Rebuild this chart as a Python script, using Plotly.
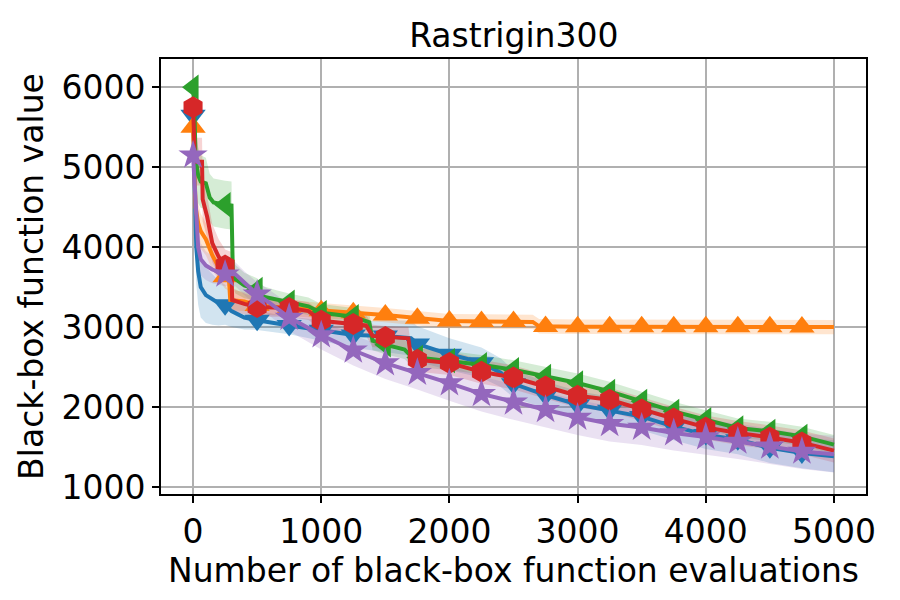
import numpy as np
import plotly.graph_objects as go

# mean curve of best value found, plus band half-width
blue_x = [0, 10, 25, 40, 60, 100, 150, 200, 250, 300, 400, 500, 750, 1000, 1250, 1500, 1700, 1750,
          2000, 2250, 2400, 2500, 2750, 3000, 3250, 3500, 3750, 4000, 4250, 4500, 4750, 5000]
blue_y = [5650, 4800, 4000, 3700, 3500, 3400, 3350, 3300, 3280, 3200, 3120, 3085, 3020, 2960, 2900, 2890, 2860, 2790,
          2660, 2555, 2430, 2290, 2150, 2030, 1960, 1880, 1755, 1655, 1590, 1490, 1425, 1385]
blue_sd = [60, 350, 450, 420, 380, 350, 320, 280, 250, 200, 150, 120, 110, 130, 160, 200, 220, 220,
           200, 190, 180, 170, 170, 170, 170, 170, 170, 180, 180, 190, 190, 200]

orange_x = [0, 10, 20, 40, 60, 100, 150, 200, 250, 280, 290, 400, 500, 750, 1000, 1250, 1500, 1750,
            2000, 2250, 2500, 2650, 2700, 2750, 3000, 3250, 3500, 3750, 4000, 4250, 4500, 4750, 5000]
orange_y = [5500, 5000, 4500, 4300, 4200, 4100, 3900, 3750, 3630, 3600, 3340, 3320, 3270, 3240, 3205, 3180, 3150, 3110,
            3075, 3070, 3070, 3065, 3010, 3008, 3005, 3005, 3005, 3005, 3005, 3005, 3005, 3000, 3000]
orange_sd = [80, 300, 300, 250, 220, 200, 180, 160, 150, 140, 130, 120, 110, 100, 95, 90, 90, 90,
             90, 90, 90, 90, 90, 90, 90, 90, 90, 90, 90, 90, 90, 90, 90]

green_x = [0, 10, 20, 40, 60, 100, 130, 160, 250, 300, 310, 330, 400, 500, 550, 650, 750, 900, 1000,
           1250, 1375, 1400, 1500, 1650, 1700, 1750, 2000, 2250, 2500, 2750, 3000, 3250, 3500, 3750,
           4000, 4250, 4500, 4750, 5000]
green_y = [6000, 5750, 5100, 4900, 4820, 4800, 4620, 4560, 4530, 4520, 3720, 3600, 3520, 3470, 3380, 3340, 3310, 3260, 3180,
           3130, 3060, 2830, 2780, 2720, 2640, 2620, 2580, 2530, 2466, 2383, 2300, 2196, 2071, 1946,
           1841, 1737, 1696, 1633, 1530]
green_sd = [60, 250, 350, 350, 330, 320, 300, 300, 300, 300, 200, 180, 160, 140, 130, 120, 110, 110, 110,
            110, 110, 120, 120, 120, 120, 120, 120, 120, 120, 120, 120, 120, 120, 120,
            120, 120, 120, 120, 120]

red_x = [0, 5, 15, 70, 75, 110, 150, 200, 250, 300, 305, 400, 500, 750, 900, 1000, 1250, 1350, 1400,
         1500, 1680, 1700, 1750, 2000, 2250, 2500, 2750, 3000, 3250, 3500, 3750, 4000, 4250, 4500, 4750, 5000]
red_y = [5750, 5400, 5070, 5070, 4600, 4380, 4050, 3880, 3770, 3760, 3340, 3290, 3250, 3240, 3200, 3080, 3040, 3020, 2890,
         2875, 2860, 2620, 2590, 2550, 2440, 2370, 2258, 2141, 2091, 1970, 1855, 1745, 1675, 1620, 1555, 1455]
red_sd = [60, 250, 300, 300, 280, 260, 240, 220, 200, 180, 150, 130, 120, 110, 110, 110, 120, 130, 140,
          140, 140, 150, 150, 150, 150, 150, 150, 150, 150, 150, 150, 150, 150, 150, 150, 150]

purple_x = [0, 10, 20, 30, 40, 60, 100, 150, 200, 250, 330, 400, 500, 600, 750, 1000, 1250, 1500, 1750,
            2000, 2250, 2500, 2750, 3000, 3250, 3500, 3750, 4000, 4250, 4500, 4750, 5000]
purple_y = [5150, 4800, 4500, 4200, 4000, 3850, 3770, 3720, 3690, 3660, 3660, 3550, 3410, 3300, 3120, 2900, 2710, 2550, 2430,
            2300, 2165, 2060, 1966, 1870, 1790, 1745, 1675, 1625, 1570, 1508, 1445, 1410]
purple_sd = [60, 300, 300, 280, 250, 200, 180, 170, 160, 150, 150, 150, 150, 160, 170, 180, 190, 200, 210,
             220, 220, 220, 220, 220, 220, 220, 220, 220, 220, 220, 220, 230]

series = [
    ("blue", blue_x, blue_y, blue_sd, "#1f77b4", "31,119,180", "triangle-down"),
    ("orange", orange_x, orange_y, orange_sd, "#ff7f0e", "255,127,14", "triangle-up"),
    ("green", green_x, green_y, green_sd, "#2ca02c", "44,160,44", "triangle-left"),
    ("red", red_x, red_y, red_sd, "#d62728", "214,39,40", "hexagon"),
    ("purple", purple_x, purple_y, purple_sd, "#9467bd", "148,103,189", "star"),
]

FONT = "DejaVu Sans"
FS = 33

fig = go.Figure()

for name, xs, ys, sd, color, rgb, symbol in series:
    xs = np.array(xs)
    ys = np.array(ys)
    sd = np.array(sd)
    # shaded band
    fig.add_trace(go.Scatter(x=xs, y=ys + sd, mode="lines", line=dict(width=0),
                             hoverinfo="skip", showlegend=False))
    fig.add_trace(go.Scatter(x=xs, y=ys - sd, mode="lines", line=dict(width=0),
                             fill="tonexty", fillcolor=f"rgba({rgb},0.2)",
                             hoverinfo="skip", showlegend=False))

for name, xs, ys, sd, color, rgb, symbol in series:
    xs = np.array(xs)
    ys = np.array(ys)
    fig.add_trace(go.Scatter(x=xs, y=ys, mode="lines", name=name,
                             line=dict(color=color, width=4), showlegend=False))
    # marker every 250 evaluations (not at the last point)
    m = (xs % 250 == 0) & (xs < 5000)
    fig.add_trace(go.Scatter(x=xs[m], y=ys[m], mode="markers", showlegend=False,
                             marker=dict(symbol=symbol, color=color, size=22, line=dict(width=0))))

# page body has an 8px offset, margins compensate for it
fig.update_layout(
    width=900, height=600,
    paper_bgcolor="white", plot_bgcolor="white",
    margin=dict(l=153, r=42, t=51, b=114),
    font=dict(family=FONT, size=FS, color="black"),
    title=dict(text="Rastrigin300", x=0.562, xanchor="center", y=0.955, yanchor="middle",
               font=dict(family=FONT, size=FS, color="black")),
)
fig.update_xaxes(
    range=[-250, 5250], tickvals=[0, 1000, 2000, 3000, 4000, 5000],
    showgrid=True, gridcolor="#b0b0b0", gridwidth=1.5,
    showline=True, linecolor="black", linewidth=2, mirror=True,
    ticks="outside", ticklen=7, tickwidth=2, tickcolor="black",
    zeroline=False, tickfont=dict(size=FS), automargin=False,
    title=dict(text="Number of black-box function evaluations", standoff=2, font=dict(size=FS)),
)
fig.update_yaxes(
    range=[912, 6354], tickvals=[1000, 2000, 3000, 4000, 5000, 6000],
    showgrid=True, gridcolor="#b0b0b0", gridwidth=1.5,
    showline=True, linecolor="black", linewidth=2, mirror=True,
    ticks="outside", ticklen=7, tickwidth=2, tickcolor="black",
    zeroline=False, tickfont=dict(size=FS), automargin=False,
    title=dict(text="Black-box function value", standoff=8, font=dict(size=FS)),
)

fig.write_html("out.html")
